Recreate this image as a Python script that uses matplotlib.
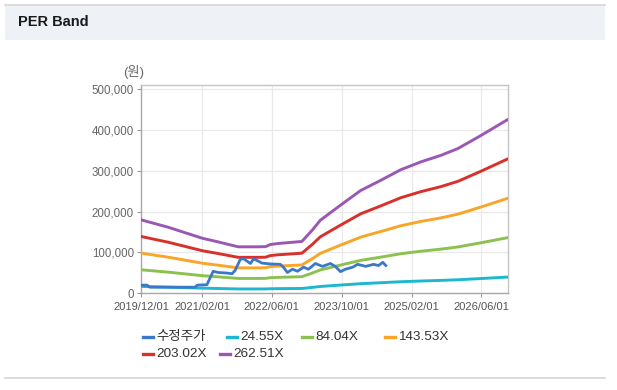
import matplotlib
matplotlib.use("Agg")
import matplotlib.pyplot as plt
import matplotlib.dates as mdates
from matplotlib.lines import Line2D
from matplotlib.patches import Rectangle
from matplotlib.ticker import FuncFormatter, FixedLocator
import numpy as np
import pandas as pd

plt.rcParams['font.family'] = ['Liberation Sans', 'Noto Sans CJK KR', 'DejaVu Sans']

# ---------------- data ----------------
title = "PER Band"
unit_label = "(원)"
series_labels = ["수정주가", "24.55X", "84.04X", "143.53X", "203.02X", "262.51X"]
per_multiples = [24.55, 84.04, 143.53, 203.02, 262.51]

eps_dates = ["2019-12-01", "2020-06-07", "2021-02-01", "2021-05-22", "2021-10-10",
             "2022-02-28", "2022-04-20", "2022-05-20", "2022-07-16", "2022-12-28",
             "2023-03-12", "2023-05-06", "2023-09-24", "2024-02-12", "2024-07-01",
             "2024-11-18", "2025-04-07", "2025-08-25", "2025-12-22", "2026-06-01",
             "2026-12-05"]
eps_values = [686, 617, 514, 480, 434,
              434, 436, 455, 465, 484,
              592, 682, 823, 960, 1055,
              1154, 1227, 1288, 1352, 1474,
              1623]

price_dates = ["2019-12-01", "2020-01-12", "2020-02-01", "2020-12-12", "2020-12-28",
               "2021-03-05", "2021-04-18", "2021-05-22", "2021-07-10", "2021-08-28",
               "2021-09-18", "2021-10-24", "2021-11-15", "2021-12-05", "2022-01-03",
               "2022-01-24", "2022-02-15", "2022-03-25", "2022-05-21", "2022-07-31",
               "2022-08-21", "2022-09-18", "2022-10-24", "2022-11-27", "2023-01-09",
               "2023-02-12", "2023-04-01", "2023-05-21", "2023-07-15", "2023-08-18",
               "2023-09-24", "2023-10-28", "2023-12-18", "2024-01-21", "2024-03-18",
               "2024-05-12", "2024-06-15", "2024-07-15", "2024-08-05"]
price_values = [20000, 20000, 15000, 15000, 20000,
                21000, 54000, 51000, 50000, 48000,
                56000, 83000, 85000, 80000, 73000,
                84000, 81000, 74000, 72000, 71000,
                64000, 51000, 59000, 54000, 64000,
                59000, 73000, 66000, 73000, 66000,
                53000, 59000, 64000, 71000, 66000,
                71000, 68000, 76000, 68000]

x_ticks = ["2019/12/01", "2021/02/01", "2022/06/01", "2023/10/01", "2025/02/01", "2026/06/01"]
y_ticks = [0, 100000, 200000, 300000, 400000, 500000]

colors = ["#3b78c8", "#1db8cf", "#8cc151", "#f9a628", "#d8312c", "#9a58b3"]

# ---------------- figure ----------------
W, H = 617, 390
fig = plt.figure(figsize=(W / 100, H / 100), dpi=100)
fig.patch.set_facecolor("white")

# header band
fig.patches.append(Rectangle((5 / W, 1 - 40 / H), 600 / W, 35 / H, transform=fig.transFigure,
                             facecolor="#eef2f7", edgecolor="none", zorder=0))
fig.lines.append(Line2D([5 / W, 605 / W], [1 - 4.5 / H, 1 - 4.5 / H], transform=fig.transFigure,
                        color="#d6d6d6", lw=1.2))
fig.lines.append(Line2D([5 / W, 605 / W], [1 - 378 / H, 1 - 378 / H], transform=fig.transFigure,
                        color="#d6d6d6", lw=1.2))
fig.text(18 / W, 1 - 22.5 / H, title, fontsize=10.5, fontweight="bold", color="#1a1a1a",
         ha="left", va="center")

# axes
left, right, top, bottom = 141, 508, 85, 293.3
ax = fig.add_axes([left / W, 1 - bottom / H, (right - left) / W, (bottom - top) / H])
ax.set_facecolor("white")

ed = pd.to_datetime(eps_dates)
eps = np.array(eps_values, dtype=float)
pd_dates = pd.to_datetime(price_dates)

for i, m in enumerate(per_multiples):
    ax.plot(ed, eps * m, color=colors[i + 1], lw=2.1, solid_capstyle="round",
            solid_joinstyle="round", zorder=3)
ax.plot(pd_dates, price_values, color=colors[0], lw=2.0, solid_joinstyle="round", zorder=4)

ax.set_xlim(pd.Timestamp("2019-12-01"), pd.Timestamp("2026-12-06"))
ax.set_ylim(0, 510500)

xt = [mdates.date2num(pd.Timestamp(t.replace("/", "-"))) for t in x_ticks]
ax.xaxis.set_major_locator(FixedLocator(xt))
ax.set_xticklabels(x_ticks)
ax.set_yticks(y_ticks)
ax.yaxis.set_major_formatter(FuncFormatter(lambda v, p: f"{int(v):,}"))

ax.grid(True, color="#e9e9e9", lw=0.9, zorder=0)
ax.set_axisbelow(True)
for s in ax.spines.values():
    s.set_color("#c4c4c4")
    s.set_linewidth(1.0)
ax.spines["left"].set_color("#a8a8a8")
ax.spines["bottom"].set_color("#a8a8a8")

ax.tick_params(axis="y", length=3, width=0.8, color="#999999", pad=2, labelsize=8.3, labelcolor="#666666")
ax.tick_params(axis="x", length=3, width=0.8, color="#999999", pad=3, labelsize=8.0, labelcolor="#555555")

fig.text(134 / W, 1 - 72 / H, unit_label, fontsize=9.5, color="#666666", ha="center", va="center")

# legend (flow layout like the reference)
leg_pos = [(143, 337), (227, 337), (302, 337), (385, 337), (143, 354), (220, 354)]
for (lx, ly), lab, c in zip(leg_pos, series_labels, colors):
    fig.lines.append(Line2D([lx / W, (lx + 10) / W], [1 - ly / H, 1 - ly / H],
                            transform=fig.transFigure, color=c, lw=2.4))
    fig.text((lx + 13) / W, 1 - ly / H, lab, fontsize=9.7, color="#333333",
             ha="left", va="center")

fig.savefig("out.png", dpi=100, facecolor=fig.get_facecolor())
